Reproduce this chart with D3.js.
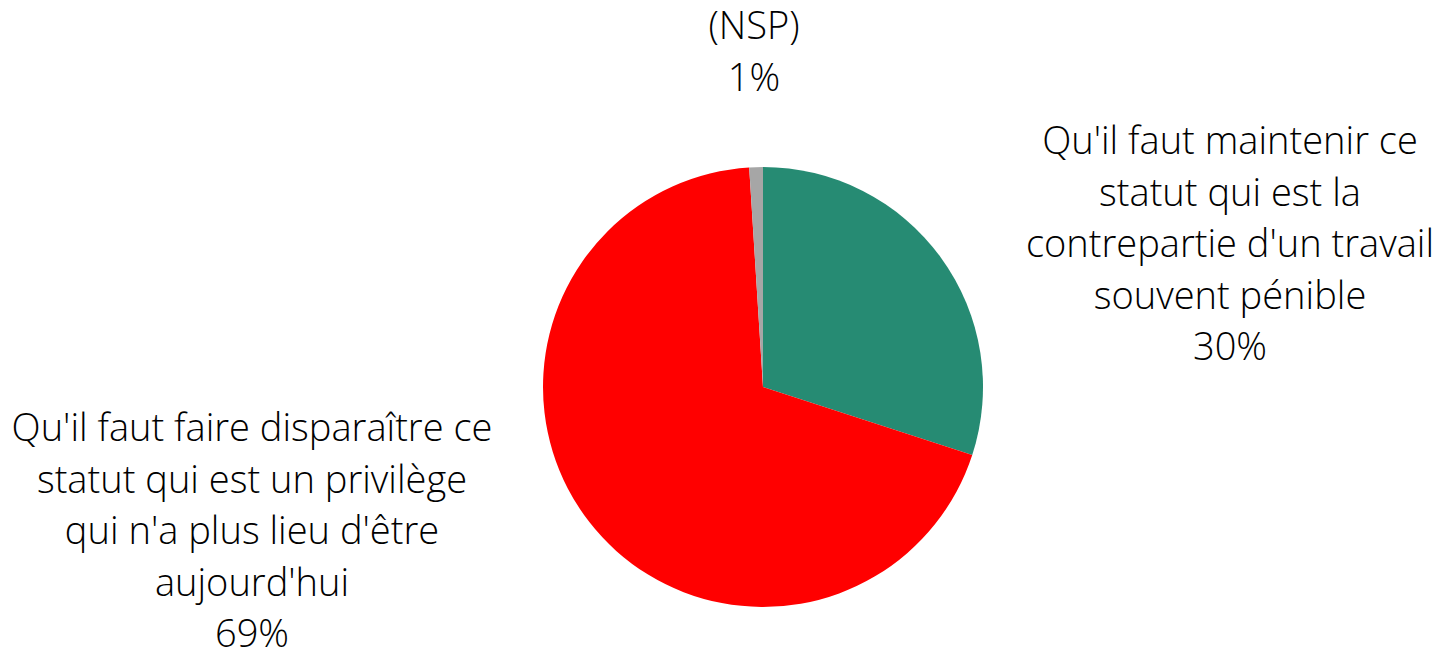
<!DOCTYPE html>
<html>
<head>
<meta charset="utf-8">
<script src="https://cdn.jsdelivr.net/npm/d3@7"></script>
<style>
  body { margin: 0; background: #fff; }
  svg text { font-family: "Open Sans", sans-serif; font-weight: 300; fill: #000; }
</style>
</head>
<body>
<div id="chart"></div>
<script>
// Chart data
var categories = [
  "Qu'il faut maintenir ce statut qui est la contrepartie d'un travail souvent pénible",
  "Qu'il faut faire disparaître ce statut qui est un privilège qui n'a plus lieu d'être aujourd'hui",
  "(NSP)"
];
var values = [30, 69, 1];
var colors = ["#268b73", "#ff0000", "#a6a6a6"];
// label lines as wrapped in the original
var labelLines = [
  ["Qu'il faut maintenir ce", "statut qui est la", "contrepartie d'un travail", "souvent pénible"],
  ["Qu'il faut faire disparaître ce", "statut qui est un privilège", "qui n'a plus lieu d'être", "aujourd'hui"],
  ["(NSP)"]
];
// label anchor (center x, first baseline y)
var labelPos = [[1230, 154], [252, 441], [754, 39]];

var chartWidth = 1447, chartHeight = 652;
var cx = 763, cy = 387, radius = 220;
var lineStep = 51.5;

var svg = d3.select("#chart").append("svg")
  .attr("width", chartWidth)
  .attr("height", chartHeight);

var pie = d3.pie().sort(null).value(function(d) { return d; });
var arc = d3.arc().innerRadius(0).outerRadius(radius);

var g = svg.append("g").attr("transform", "translate(" + cx + "," + cy + ")");

g.selectAll("path.slice")
  .data(pie(values))
  .enter().append("path")
  .attr("class", "slice")
  .attr("d", arc)
  .attr("fill", function(d, i) { return colors[i]; });

// fit font so the longest left line matches the original width
var probe = svg.append("text").style("font-size", "36px").text(labelLines[1][0]);
var w = probe.node().getComputedTextLength();
probe.remove();
var fontSize = 36 * 481 / w;

labelLines.forEach(function(lines, i) {
  var all = lines.concat([values[i] + "%"]);
  var t = svg.append("text")
    .attr("text-anchor", "middle")
    .style("font-size", fontSize + "px");
  all.forEach(function(s, j) {
    t.append("tspan")
      .attr("x", labelPos[i][0])
      .attr("y", labelPos[i][1] + j * lineStep)
      .text(s);
  });
});
</script>
</body>
</html>
